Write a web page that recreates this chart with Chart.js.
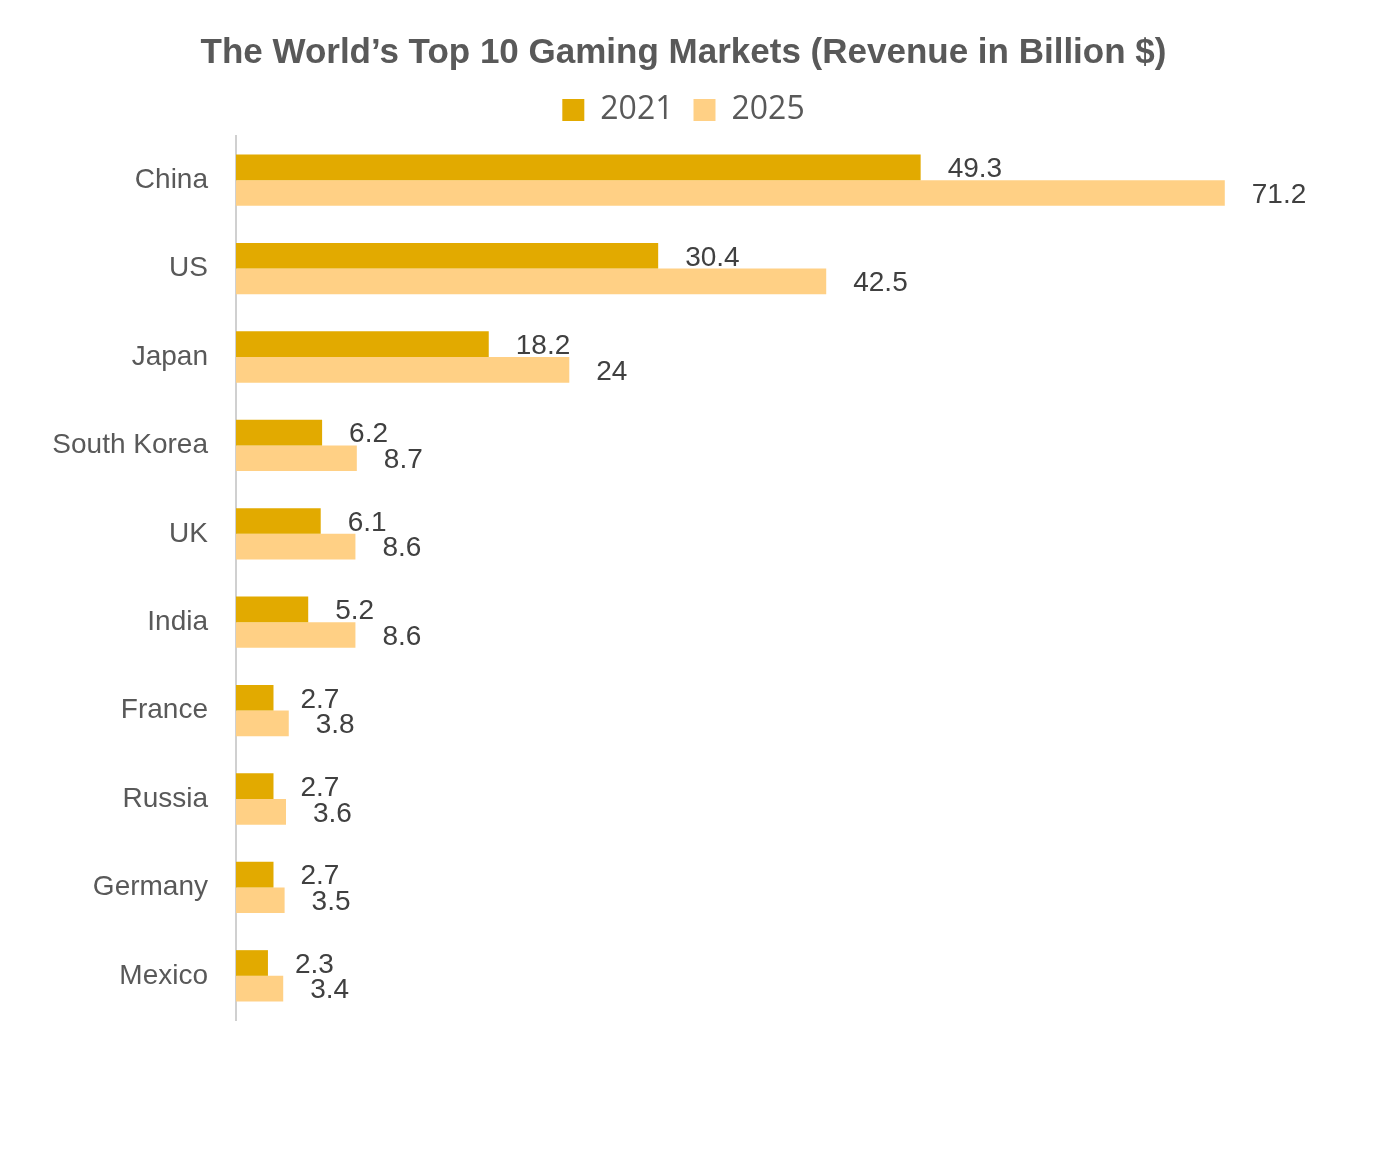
<!DOCTYPE html>
<html>
<head>
<meta charset="utf-8">
<script src="https://cdn.jsdelivr.net/npm/chart.js@4"></script>
<style>
html,body{margin:0;padding:0;background:#fff;}
#wrap{width:1397px;height:1176px;}
</style>
</head>
<body>
<div id="wrap"><canvas id="c"></canvas></div>
<script>
var countries = ["China","US","Japan","South Korea","UK","India","France","Russia","Germany","Mexico"];
var rev2021 = [49.3,30.4,18.2,6.2,6.1,5.2,2.7,2.7,2.7,2.3];
var rev2025 = [71.2,42.5,24,8.7,8.6,8.6,3.8,3.6,3.5,3.4];

// draws the value at the end of every bar
var barLabels = {
    id: "barLabels",
    afterDatasetsDraw: function(chart){
        var ctx = chart.ctx;
        ctx.save();
        ctx.font = "28px 'Liberation Sans', Arial, sans-serif";
        ctx.fillStyle = "#404040";
        ctx.textBaseline = "middle";
        chart.data.datasets.forEach(function(ds, i){
            chart.getDatasetMeta(i).data.forEach(function(bar, j){
                ctx.fillText(String(ds.data[j]), bar.x + 27, bar.y + 2);
            });
        });
        ctx.restore();
    }
};

new Chart(document.getElementById("c"), {
    type: "bar",
    data: {
        labels: countries,
        datasets: [
            {label: "2021", data: rev2021, backgroundColor: "#E2AA00", categoryPercentage: 0.58, barPercentage: 1},
            {label: "2025", data: rev2025, backgroundColor: "#FFD085", categoryPercentage: 0.58, barPercentage: 1}
        ]
    },
    options: {
        indexAxis: "y",
        responsive: true,
        maintainAspectRatio: false,
        animation: false,
        layout: {padding: {left: 20, right: 50, top: 0, bottom: 156}},
        scales: {
            x: {display: false, min: 0, max: 80},
            y: {
                grid: {display: false},
                border: {color: "#d0d0d0", width: 2},
                afterFit: function(scale){ scale.width = 216; },
                ticks: {color: "#595959", padding: 20, font: {size: 28, family: "'Liberation Sans', Arial, sans-serif"}}
            }
        },
        plugins: {
            title: {
                display: true,
                text: "The World\u2019s Top 10 Gaming Markets (Revenue in Billion $)",
                color: "#595959",
                font: {size: 35, weight: "bold", family: "'Liberation Sans', Arial, sans-serif"},
                padding: {top: 32, bottom: 0}
            },
            legend: {
                labels: {
                    color: "#595959",
                    boxWidth: 22, boxHeight: 22,
                    font: {size: 32, family: "'Open Sans', sans-serif"},
                    padding: 20
                }
            },
            tooltip: {enabled: false}
        }
    },
    plugins: [barLabels]
});
</script>
</body>
</html>
